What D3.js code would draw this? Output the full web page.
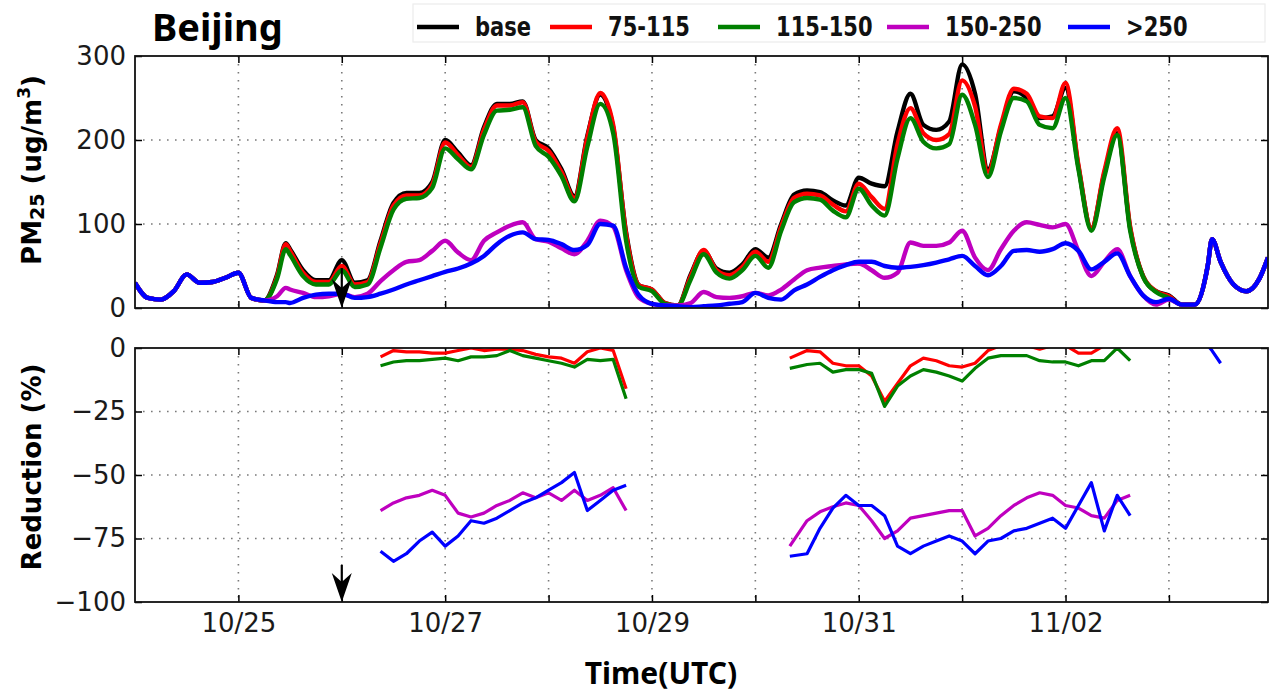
<!DOCTYPE html>
<html>
<head>
<meta charset="utf-8">
<script src="https://cdn.jsdelivr.net/npm/d3@7"></script>
<style>
  body { margin: 0; background: #fff; }
  svg { display: block; }
</style>
</head>
<body>
<svg id="chart" width="1275" height="693"></svg>
<script>
// ---- data -------------------------------------------------------------
// hours since 10/24 00:00 UTC
const hours = [0,3,6,9,12,15,18,21,24,27,30,33,35,
  36,39,42,45,48,51,54,57,60,63,66,69,
  72,75,78,81,84,87,90,93,96,99,102,105,
  108,111,114,117,120,123,126,129,132,135,138,141,
  144,147,150,153,156,159,162,165,168,171,174,177,
  180,183,186,189,192,195,198,201,204,207,210,213,
  216,219,222,225,228,231,234,237,240,243,246,249,
  250,252,255,258,261,263];

// PM2.5 (ug/m3) for the base run and the four emission-control scenarios
const pmBase = [30,12,10,20,40,30,31,36,42,12,9,40,77,
  70,45,33,33,57,30,33,80,125,137,137,150,
  200,185,170,215,243,243,246,200,190,165,133,205,
  254,215,90,27,22,6,3,40,68,47,42,52,
  70,60,100,135,140,138,128,122,155,148,145,210,
  255,218,212,222,290,255,165,215,258,250,226,228,
  262,168,95,160,208,95,38,20,15,4,4,50,
  82,55,28,20,35,60];
const pm75to115 = [30,12,10,20,40,30,31,36,42,12,9,38,76,
  68,42,31,31,50,28,31,77,122,134,134,147,
  197,182,168,212,241,241,245,198,187,162,131,203,
  256,218,88,27,22,6,3,38,69,45,39,49,
  67,55,97,131,136,134,123,115,148,132,118,195,
  238,208,200,207,271,240,162,218,261,255,228,226,
  268,170,95,163,214,97,38,20,14,4,4,50,
  82,55,28,20,35,60];
const pm115to150 = [30,12,10,20,40,30,31,36,42,12,9,35,70,
  63,38,28,28,45,25,28,72,117,130,131,143,
  190,177,165,206,235,236,239,193,180,157,127,192,
  243,208,80,25,20,5,3,34,64,42,35,45,
  62,48,92,126,131,129,116,108,142,122,110,178,
  226,198,190,195,254,218,156,210,250,246,218,214,
  250,165,92,156,206,92,37,19,12,4,4,50,
  82,55,28,20,35,60];
const pm150to250 = [30,12,10,20,40,30,31,36,42,12,9,14,24,
  22,18,13,14,17,13,17,32,45,55,57,68,
  80,66,57,80,90,98,102,82,79,71,64,80,
  104,97,45,12,5,3,3,6,19,13,12,14,
  18,15,22,34,45,48,50,52,53,45,36,42,
  78,74,74,78,92,60,45,70,92,102,99,96,
  100,68,38,55,70,38,15,4,10,4,4,50,
  82,55,28,20,35,60];
const pmAbove250 = [30,12,10,20,40,30,31,36,42,12,9,7,7,
  6,12,16,17,17,12,13,17,22,28,33,38,
  43,47,53,62,76,86,90,82,81,76,69,75,
  100,98,48,15,5,3,2,1,2,3,5,7,
  18,12,10,21,28,37,45,51,55,55,50,48,
  49,51,54,58,62,50,39,50,68,69,67,70,
  77,68,46,55,65,38,15,7,11,4,4,50,
  82,55,28,20,35,60];

// reduction (%) relative to the base run; null breaks the line
const reductionHours = [57,60,63,66,69,72,75,78,81,84,87,90,93,96,99,102,105,108,111,114,
  135,
  152,156,159,162,165,168,171,174,177,180,183,186,189,192,195,198,201,204,207,210,213,216,219,222,225,228,231,
  240,
  249,250,252];
const red75to115 = [-3.5,-1,-1.5,-1.5,-2,-2,-1,0,-1,-0.5,-0.5,-1,-2.5,-3.5,-4,-6,-1.5,0,-1,-16,
  null,
  -4,-1,-1.5,-6,-7,-7,-11,-21,-14,-7,-4,-5,-7,-7.5,-6,-1,1,2,1,-0.5,1,1,-2,-2,1,2,2,
  null,
  null,null,null];
const red115to150 = [-7,-5.5,-5,-5,-4.5,-4,-5,-3.5,-3.5,-3,-1,-3,-4,-5,-6,-7.5,-4.5,-5,-4.5,-20,
  null,
  -8,-6.5,-6,-9.5,-8.5,-8.5,-10,-23,-15,-11,-8.5,-9.5,-11,-13,-8,-4,-3,-3,-3,-5,-5.5,-5.5,-7,-5,-5,0,-5,
  null,
  null,null,null];
const red150to250 = [-64,-61,-59,-58,-56,-58,-65,-66.5,-65,-62,-60,-57,-59,-57,-60,-56,-60,-58,-55,-64,
  null,
  -78,-68,-64.5,-62.5,-61,-62,-68,-75,-72,-67,-66,-65,-64,-64,-74,-71,-66,-62,-59,-57,-58,-62,-63,-66,-67,-60,-58,
  null,
  null,null,null];
const redAbove250 = [-80,-84,-81,-76,-72.5,-78,-74,-68,-69,-67,-64,-61,-59,-56,-53,-49,-64,-60,-56,-54,
  null,
  -82,-81,-71,-63,-58,-62,-62,-66,-78,-81,-78,-76,-74,-76,-81,-76,-75,-72,-71,-69,-67,-71,-62,-53,-72,-58,-66,
  null,
  1,-1,-6];

const seriesNames = ["base", "75-115", "115-150", "150-250", ">250"];
const seriesColors = ["#000000", "#ff0000", "#008000", "#bf00bf", "#0000ff"];

const pmTicks = [0, 100, 200, 300];
const reductionTicks = [0, -25, -50, -75, -100];
const dayTicks = [24, 48, 72, 96, 120, 144, 168, 192, 216, 240];
const labelTicks = [24, 72, 120, 168, 216];
const labelText = ["10/25", "10/27", "10/29", "10/31", "11/02"];
const controlStartHour = 48; // 10/26 00:00, marked by arrows

// ---- layout -----------------------------------------------------------
const svg = d3.select("#chart");
const L = 135, R = 1268;
const topP = { y0: 56, y1: 308 };
const botP = { y0: 348, y1: 602 };

const x = d3.scaleLinear().domain([0, 263]).range([L, R]);
const yTop = d3.scaleLinear().domain([0, 300]).range([topP.y1, topP.y0]);
const yBot = d3.scaleLinear().domain([-100, 0]).range([botP.y1, botP.y0]);

const tickFont = "'DejaVu Sans', sans-serif";
const defs = svg.append("defs");
function clip(id, p) {
  defs.append("clipPath").attr("id", id)
    .append("rect").attr("x", L).attr("y", p.y0).attr("width", R - L).attr("height", p.y1 - p.y0);
}
clip("clipTop", topP);
clip("clipBot", botP);

function panel(p, y, yTicks, showX) {
  const g = svg.append("g");
  // dotted grid
  g.append("g").selectAll("line").data(dayTicks).join("line")
    .attr("x1", d => x(d)).attr("x2", d => x(d))
    .attr("y1", p.y0).attr("y2", p.y1)
    .attr("stroke", "#7a7a7a").attr("stroke-width", 1.6).attr("stroke-dasharray", "1.6,6.4");
  g.append("g").selectAll("line").data(yTicks.filter(v => y(v) > p.y0 + 1 && y(v) < p.y1 - 1)).join("line")
    .attr("x1", L).attr("x2", R)
    .attr("y1", d => y(d)).attr("y2", d => y(d))
    .attr("stroke", "#7a7a7a").attr("stroke-width", 1.6).attr("stroke-dasharray", "1.6,6.4");

  // inward ticks on all four sides, labels on the left (and bottom)
  const ax = [];
  ax.push(g.append("g").attr("transform", `translate(${L},0)`)
    .call(d3.axisLeft(y).tickValues(yTicks).tickSize(-7).tickPadding(9)));
  ax.push(g.append("g").attr("transform", `translate(${R},0)`)
    .call(d3.axisRight(y).tickValues(yTicks).tickSize(-7).tickFormat("")));
  ax.push(g.append("g").attr("transform", `translate(0,${p.y0})`)
    .call(d3.axisTop(x).tickValues(dayTicks).tickSize(-7).tickFormat("")));
  const xb = g.append("g").attr("transform", `translate(0,${p.y1})`)
    .call(d3.axisBottom(x).tickValues(dayTicks).tickSize(-7).tickPadding(12)
      .tickFormat(d => showX && labelTicks.includes(d) ? labelText[labelTicks.indexOf(d)] : ""));
  ax.push(xb);
  ax.forEach(a => {
    a.select(".domain").remove();
    a.selectAll(".tick line").attr("stroke", "#000").attr("stroke-width", 1.5);
    a.selectAll("text").attr("font-family", tickFont).attr("font-size", 26).attr("fill", "#1a1a1a");
  });
  xb.selectAll("text").attr("dy", "0.71em");
  return g;
}

const gTop = panel(topP, yTop, pmTicks, false);
const gBot = panel(botP, yBot, reductionTicks, true);

// ---- PM2.5 lines --------------------------------------------------------
const pmSeries = [pmBase, pm75to115, pm115to150, pm150to250, pmAbove250];
const pmLine = d3.line()
  .x((d, i) => x(hours[i]))
  .y(d => yTop(d))
  .curve(d3.curveMonotoneX);
svg.append("g").attr("clip-path", "url(#clipTop)")
  .selectAll("path").data(pmSeries).join("path")
  .attr("d", d => pmLine(d))
  .attr("fill", "none")
  .attr("stroke", (d, i) => seriesColors[i])
  .attr("stroke-width", 4.4)
  .attr("stroke-linejoin", "round");

// ---- reduction lines ----------------------------------------------------
const redSeries = [red75to115, red115to150, red150to250, redAbove250];
const redLine = d3.line()
  .defined(d => d != null)
  .x((d, i) => x(reductionHours[i]))
  .y(d => yBot(d));
svg.append("g").attr("clip-path", "url(#clipBot)")
  .selectAll("path").data(redSeries).join("path")
  .attr("d", d => redLine(d))
  .attr("fill", "none")
  .attr("stroke", (d, i) => seriesColors[i + 1])
  .attr("stroke-width", 3.2)
  .attr("stroke-linejoin", "round");

// ---- frames -------------------------------------------------------------
[topP, botP].forEach(p => {
  svg.append("rect").attr("x", L).attr("y", p.y0).attr("width", R - L).attr("height", p.y1 - p.y0)
    .attr("fill", "none").attr("stroke", "#111").attr("stroke-width", 1.8);
});

// ---- arrows marking the start of emission control ----------------------
function arrow(yTip, len) {
  const cx = x(controlStartHour);
  const g = svg.append("g");
  g.append("line").attr("x1", cx).attr("x2", cx)
    .attr("y1", yTip - len).attr("y2", yTip - 12)
    .attr("stroke", "#000").attr("stroke-width", 2.2);
  g.append("path")
    .attr("d", `M${cx},${yTip} L${cx - 10},${yTip - 29} L${cx},${yTip - 20} L${cx + 10},${yTip - 29} Z`)
    .attr("fill", "#000");
}
arrow(yTop(0), 40);
arrow(yBot(-100), 37);

// ---- text ---------------------------------------------------------------
svg.append("text").attr("x", 152).attr("y", 41)
  .attr("font-family", "'Noto Sans', 'Open Sans', sans-serif").attr("font-weight", "bold")
  .attr("font-size", 38).attr("fill", "#000").text("Beijing");

const pmLabel = svg.append("text")
  .attr("transform", `translate(41,${(topP.y0 + topP.y1) / 2 - 12}) rotate(-90)`)
  .attr("text-anchor", "middle")
  .attr("font-family", tickFont).attr("font-weight", "bold").attr("font-size", 26).attr("fill", "#000");
pmLabel.append("tspan").text("PM");
pmLabel.append("tspan").attr("font-size", 19).attr("dy", 3).text("25");
pmLabel.append("tspan").attr("dy", -3).text(" (ug/m");
pmLabel.append("tspan").attr("font-size", 17).attr("dy", -11).text("3");
pmLabel.append("tspan").attr("dy", 11).text(")");

svg.append("text")
  .attr("transform", `translate(41,${(botP.y0 + botP.y1) / 2 - 8}) rotate(-90)`)
  .attr("text-anchor", "middle")
  .attr("font-family", tickFont).attr("font-weight", "bold").attr("font-size", 26).attr("fill", "#000")
  .text("Reduction (%)");

svg.append("text").attr("x", 661).attr("y", 684).attr("text-anchor", "middle")
  .attr("font-family", "'Noto Sans', 'Open Sans', sans-serif").attr("font-weight", "bold")
  .attr("font-size", 30).attr("fill", "#000").text("Time(UTC)");

// ---- legend -------------------------------------------------------------
const legend = svg.append("g");
legend.append("rect").attr("x", 413).attr("y", 4).attr("width", 852).attr("height", 38)
  .attr("fill", "#fff").attr("stroke", "#ececec").attr("stroke-width", 1.2);
const legendX = [417, 550, 718, 887, 1068];
seriesNames.forEach((name, i) => {
  const lx = legendX[i];
  legend.append("line").attr("x1", lx).attr("x2", lx + 42).attr("y1", 27).attr("y2", 27)
    .attr("stroke", seriesColors[i]).attr("stroke-width", 4.5);
  // condensed bold label: horizontally compressed DejaVu Sans Bold
  legend.append("text")
    .attr("transform", `translate(${lx + 58},36) scale(0.78,1)`)
    .attr("font-family", tickFont)
    .attr("font-weight", "bold").attr("font-size", 27).attr("fill", "#111").text(name);
});
</script>
</body>
</html>
